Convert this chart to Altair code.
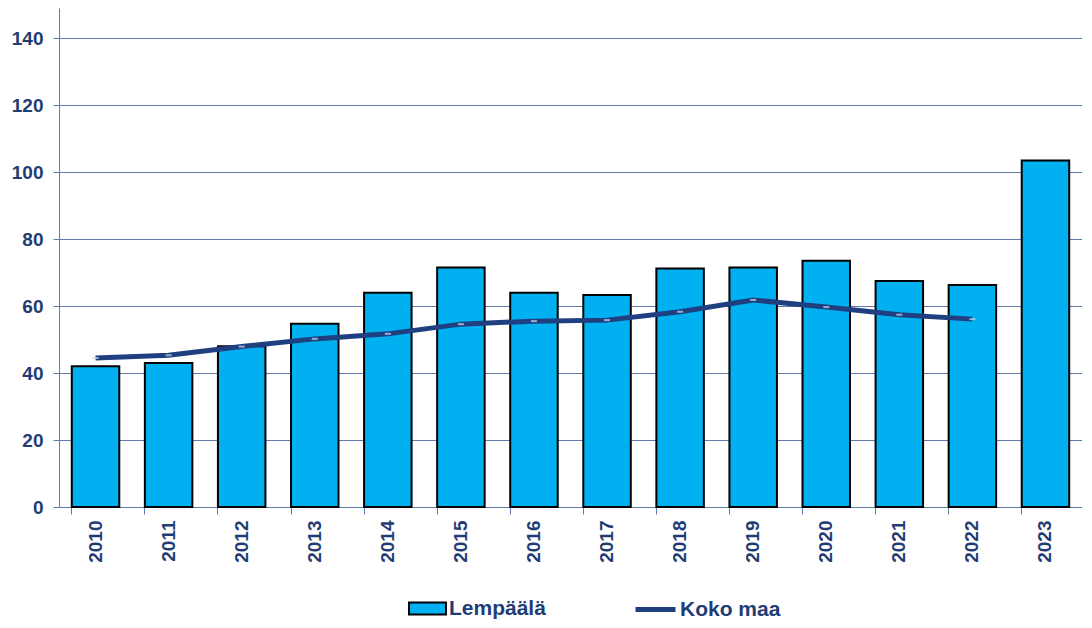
import altair as alt
import pandas as pd

years = ["2010", "2011", "2012", "2013", "2014", "2015", "2016",
         "2017", "2018", "2019", "2020", "2021", "2022", "2023"]
lempaala = [42, 43, 48, 54.7, 64, 71.5, 64, 63.3, 71.2, 71.5, 73.5, 67.5, 66.3, 103.5]
koko_maa = [44.5, 45.3, 47.9, 50.2, 51.7, 54.6, 55.5, 55.8, 58.3, 61.8, 59.7, 57.4, 56.1, None]

NAVY = "#1F3C74"
GRID = "#5F7BAA"
FONT = "Liberation Sans"

df = pd.DataFrame({"year": years, "lempaala": lempaala, "koko": koko_maa})
df_line = df.dropna(subset=["koko"])

xenc = alt.X("year:N", sort=years,
             scale=alt.Scale(paddingInner=0.35, paddingOuter=0.175),
             axis=alt.Axis(title=None, labelAngle=270, labelFont=FONT, labelFontSize=19,
                           labelFontWeight="bold", labelColor=NAVY, labelPadding=6,
                           tickSize=7, tickColor=GRID, domainColor=GRID, bandPosition=0,
                           labelBaseline="middle", labelAlign="right"))

yscale = alt.Scale(domain=[0, 149], nice=False)

bars = alt.Chart(df).transform_calculate(s="'Lempäälä'").mark_bar(
    stroke="black", strokeWidth=2
).encode(
    x=xenc,
    y=alt.Y("lempaala:Q", scale=yscale,
            axis=alt.Axis(title=None, values=[0, 20, 40, 60, 80, 100, 120, 140],
                          labelFont=FONT, labelFontSize=19, labelFontWeight="bold",
                          labelColor=NAVY, labelPadding=10, tickSize=6, tickColor=GRID,
                          domainColor=GRID, gridColor=GRID, gridWidth=1, grid=True)),
    fill=alt.Fill("s:N", scale=alt.Scale(domain=["Lempäälä"], range=["#00B0F0"]),
                  legend=alt.Legend(title=None, orient="none", legendX=349, legendY=581,
                                    symbolType="M-1,-0.32H1V0.32H-1Z", symbolSize=1369,
                                    symbolStrokeColor="black", symbolStrokeWidth=2,
                                    labelFont=FONT, labelFontSize=21, labelFontWeight="bold",
                                    labelColor=NAVY, labelOffset=2, padding=0)),
)

line = alt.Chart(df_line).transform_calculate(s2="'Koko maa'").mark_line(strokeWidth=5).encode(
    x=alt.X("year:N", sort=years),
    y=alt.Y("koko:Q", scale=yscale),
    stroke=alt.Stroke("s2:N", scale=alt.Scale(domain=["Koko maa"], range=["#1F3F80"]),
                      legend=alt.Legend(title=None, orient="none", legendX=574, legendY=579,
                                        symbolType="M-1,0H1", symbolSize=1600,
                                        symbolStrokeWidth=5,
                                        labelFont=FONT, labelFontSize=21, labelFontWeight="bold",
                                        labelColor=NAVY, labelOffset=2, padding=0)),
)

dots = alt.Chart(df_line).mark_point(shape="M-1,0H1", size=36, strokeWidth=2,
                                     color="#C8DDEE", filled=False).encode(
    x=alt.X("year:N", sort=years),
    y=alt.Y("koko:Q", scale=yscale),
)

chart = alt.layer(bars, line, dots).properties(
    width=1023, height=499,
    padding={"left": 3, "top": 0, "right": 0, "bottom": 0},
).configure_view(stroke=None).configure_axis(gridColor=GRID)

chart.save("out.html", embed_options={"renderer": "svg", "actions": False})
